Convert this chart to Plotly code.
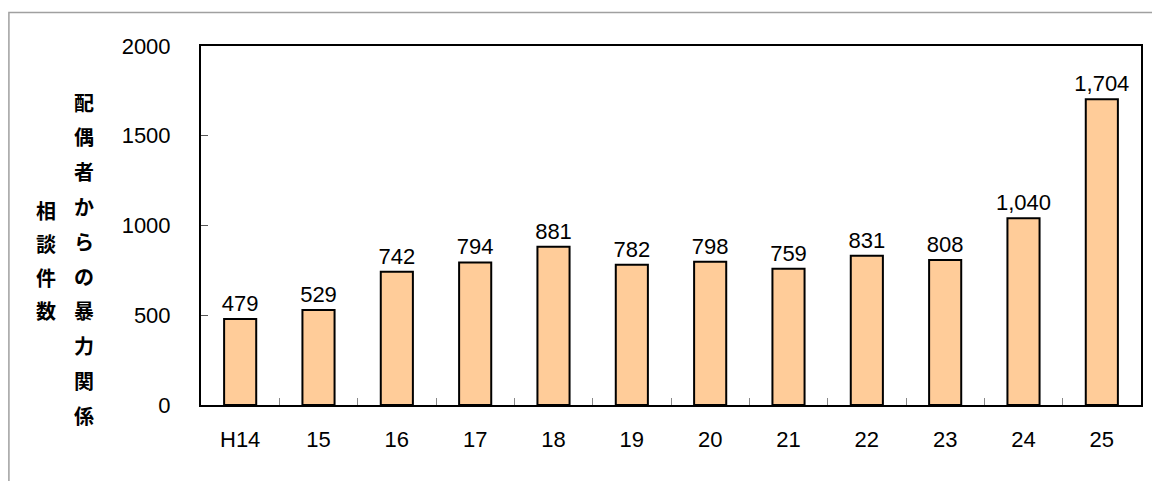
import plotly.graph_objects as go

categories = ["H14", "15", "16", "17", "18", "19", "20", "21", "22", "23", "24", "25"]
values = [479, 529, 742, 794, 881, 782, 798, 759, 831, 808, 1040, 1704]
y_ticks = [0, 500, 1000, 1500, 2000]
title_left = "相談件数"
title_right = "配偶者からの暴力関係"

# page body has an 8px margin; size the figure so nothing scrolls
OFF = 8
W, H = 1144, 473
L, T = 201 - OFF, 46 - OFF
R = W - (1143 - OFF)
B = H - (405 - OFF)
pw, ph = W - L - R, H - T - B

num_font = "Liberation Sans, Arial, sans-serif"
jp_font = "Noto Sans CJK JP, sans-serif"


def px_x(px):
    return (px - OFF - L) / pw


def px_y(py):
    return (H - B - (py - OFF)) / ph


fig = go.Figure(go.Bar(
    x=categories, y=values,
    marker=dict(color="#FFCC99", line=dict(color="black", width=2)),
    width=0.41,
    text=values, texttemplate="%{y:,}", textposition="outside",
    constraintext="none",
    textfont=dict(family=num_font, size=22, color="black"),
    cliponaxis=False,
))

annotations = []
for i, ch in enumerate(title_left):
    annotations.append(dict(text=ch, xref="paper", yref="paper",
                            x=px_x(46), y=px_y(210 + i * 33.5),
                            showarrow=False, xanchor="center", yanchor="middle",
                            font=dict(family=jp_font, size=20, color="black", weight="bold")))
for i, ch in enumerate(title_right):
    annotations.append(dict(text=ch, xref="paper", yref="paper",
                            x=px_x(84), y=px_y(102 + i * 34.8),
                            showarrow=False, xanchor="center", yanchor="middle",
                            font=dict(family=jp_font, size=20, color="black", weight="bold")))

fig.update_layout(
    width=W, height=H,
    margin=dict(l=L, r=R, t=T, b=B),
    paper_bgcolor="white", plot_bgcolor="white",
    showlegend=False,
    annotations=annotations,
    shapes=[dict(type="rect", xref="paper", yref="paper",
                 x0=px_x(8.5), x1=px_x(1180),
                 y0=px_y(520), y1=px_y(12.5),
                 line=dict(color="#A0A0A0", width=1.5), fillcolor="rgba(0,0,0,0)",
                 layer="below")],
)
fig.update_xaxes(
    type="category", showline=True, linecolor="black", linewidth=2, mirror=True,
    ticks="inside", tickson="boundaries", ticklen=7, tickcolor="#888888", tickwidth=1,
    tickfont=dict(family=num_font, size=22, color="black"),
    ticklabelstandoff=14, showgrid=False,
)
fig.update_yaxes(
    range=[0, 2000], tickvals=y_ticks, tickformat="d",
    showline=True, linecolor="black", linewidth=2, mirror=True,
    ticks="inside", ticklen=7, tickcolor="#555555", tickwidth=1,
    tickfont=dict(family=num_font, size=22, color="black"),
    ticklabelstandoff=24, showgrid=False, zeroline=False,
)

fig.write_html("out.html")
